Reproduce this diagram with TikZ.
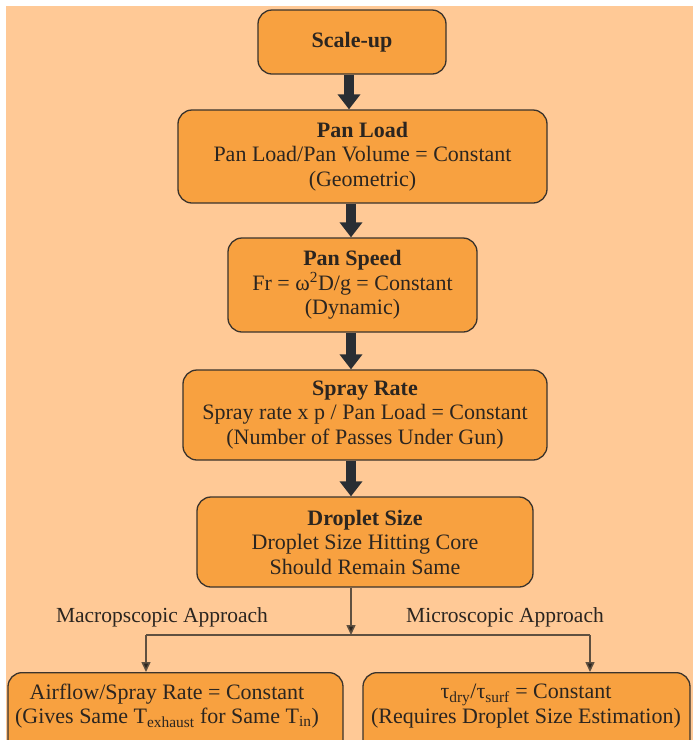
\documentclass[tikz,border=0pt]{standalone}
\usepackage{fontspec}
\setmainfont{Liberation Serif}
\usetikzlibrary{arrows.meta}
\definecolor{bgpeach}{HTML}{FFC996}
\definecolor{boxorange}{HTML}{F8A140}
\definecolor{boxline}{HTML}{3A332C}
\definecolor{inkc}{HTML}{2B2520}
\definecolor{bigarrow}{HTML}{2A2E33}
\definecolor{thinline}{HTML}{5F5040}
\tikzset{
  stepbox/.style={draw=boxline, line width=1.3pt, fill=boxorange, rounded corners=14pt,
    align=center, text=inkc, inner sep=0pt,
    font=\fontsize{22}{24.5}\selectfont},
  bigarr/.style={draw=bigarrow, line width=10pt, -{Triangle[width=22pt,length=15pt]}},
  thinarr/.style={draw=thinline, line width=1.5pt, -{Triangle[width=9pt,length=10pt,fill=inkc]}},
  thinln/.style={draw=thinline, line width=1.5pt},
  lbl/.style={text=inkc, font=\fontsize{21.5}{24}\selectfont, inner sep=0pt}
}
\begin{document}
\begin{tikzpicture}[x=1pt,y=-1pt]
\useasboundingbox (0,0) rectangle (693,740);
\clip (0,0) rectangle (693,740);
\fill[bgpeach] (6,6) rectangle (693,740);

\node[stepbox, minimum width=188pt, minimum height=64pt] (scale) at (352,42) {\textbf{Scale-up}};
\node[stepbox, minimum width=369pt, minimum height=93pt] (load) at (362.5,156.5)
  {\textbf{Pan Load}\\Pan Load/Pan Volume = Constant\\(Geometric)};
\node[stepbox, minimum width=249pt, minimum height=94pt] (speed) at (352.5,285)
  {\textbf{Pan Speed}\\Fr = ω\textsuperscript{2}D/g = Constant\\(Dynamic)};
\node[stepbox, minimum width=364pt, minimum height=90pt] (spray) at (365,415)
  {\textbf{Spray Rate}\\Spray rate x p / Pan Load = Constant\\(Number of Passes Under Gun)};
\node[stepbox, minimum width=336pt, minimum height=90pt] (drop) at (365,542)
  {\textbf{Droplet Size}\\Droplet Size Hitting Core\\Should Remain Same};
\node[stepbox, minimum width=335pt, minimum height=100pt, anchor=north] (lb) at (175.5,672) {};
\node[stepbox, minimum width=327pt, minimum height=100pt, anchor=north] (rb) at (526.5,672) {};
\node[lbl, font=\fontsize{22}{24.5}\selectfont, align=center] (lbt) at (167,706)
  {Airflow/Spray Rate = Constant\\(Gives Same T\textsubscript{exhaust} for Same T\textsubscript{in})};
\node[lbl, font=\fontsize{22}{24.5}\selectfont, align=center] (rbt) at (526,706)
  {τ\textsubscript{dry}/τ\textsubscript{surf} = Constant\\(Requires Droplet Size Estimation)};

\node[lbl] (macro) at (162,617) {Macropscopic Approach};
\node[lbl] (micro) at (505,617) {Microscopic Approach};

\draw[bigarr] (scale.south -| 349,0) -- (load.north -| 349,0);
\draw[bigarr] (load.south -| 351,0) -- (speed.north -| 351,0);
\draw[bigarr] (speed.south -| 351,0) -- (spray.north -| 351,0);
\draw[bigarr] (spray.south -| 351,0) -- (drop.north -| 351,0);

\coordinate (j) at (351,635);
\coordinate (jl) at (146,635);
\coordinate (jr) at (590,635);
\draw[thinarr] (j |- drop.south) -- (j);
\draw[thinln] (jl) -- (jr);
\draw[thinarr] (jl) -- (jl |- lb.north);
\draw[thinarr] (jr) -- (jr |- rb.north);
\end{tikzpicture}
\end{document}
